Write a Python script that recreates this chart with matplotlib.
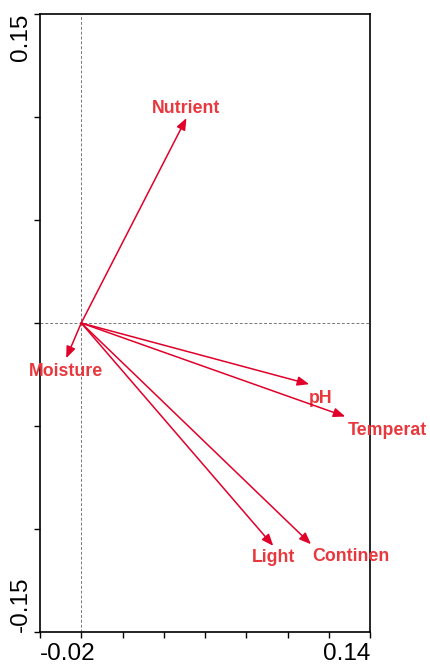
import numpy as np
import matplotlib
matplotlib.use("Agg")
import matplotlib.pyplot as plt

# biplot arrows (environmental variables)
names = ["Nutrient", "Moisture", "pH", "Temperat", "Light", "Continen"]
xs = [0.051, -0.0073, 0.1105, 0.128, 0.0931, 0.1114]
ys = [0.0995, -0.0171, -0.0297, -0.0454, -0.1082, -0.1074]

# label offsets from the arrow tip, in pixels (right, up)
label_dx = [0, 0, 11, 42, 0, 40]
label_dy = [10, -13, -14, -14, -12, -12]

xlim = (-0.02, 0.14)
ylim = (-0.15, 0.15)
xticks = np.arange(-0.02, 0.1401, 0.02)
yticks = np.arange(-0.15, 0.1501, 0.05)

arrow_col = "#e0002a"
text_col = "#e8383d"

fig = plt.figure(figsize=(4.30, 6.64), dpi=100)
ax = fig.add_axes([40 / 430, 32 / 664, 330 / 430, 618 / 664])

ax.axhline(0, color="#777777", lw=0.7, ls=(0, (3, 2)), zorder=1)
ax.axvline(0, color="#777777", lw=0.7, ls=(0, (3, 2)), zorder=1)

for n, x, y, dx, dy in zip(names, xs, ys, label_dx, label_dy):
    ax.annotate("", xy=(x, y), xytext=(0, 0),
                arrowprops=dict(arrowstyle="-|>,head_length=0.7,head_width=0.28",
                                color=arrow_col, lw=1.1, shrinkA=0, shrinkB=0))
    ax.annotate(n, xy=(x, y), xytext=(dx * 0.72, dy * 0.72), textcoords="offset points",
                ha="center", va="center", color=text_col, fontsize=12.8,
                fontweight="bold", family="Liberation Sans", annotation_clip=False)

ax.set_xlim(*xlim)
ax.set_ylim(*ylim)

ax.set_xticks(xticks)
ax.set_xticklabels(["-0.02"] + [""] * (len(xticks) - 2) + ["0.14"])
ax.set_yticks(yticks)
ax.set_yticklabels(["-0.15"] + [""] * (len(yticks) - 2) + ["0.15"])

ax.tick_params(direction="out", length=4, width=1, labelsize=17.5)
ax.tick_params(axis="x", pad=4)
ax.tick_params(axis="y", pad=2)
for lbl in ax.get_xticklabels():
    lbl.set_family("Liberation Sans")
xl = ax.get_xticklabels()
xl[0].set_ha("left")
xl[-1].set_ha("right")
for lbl in ax.get_yticklabels():
    lbl.set_family("Liberation Sans")
    lbl.set_rotation(90)
yl = ax.get_yticklabels()
yl[0].set_va("bottom")
yl[-1].set_va("top")

for s in ax.spines.values():
    s.set_linewidth(1.2)

fig.savefig("out.png", dpi=100)
